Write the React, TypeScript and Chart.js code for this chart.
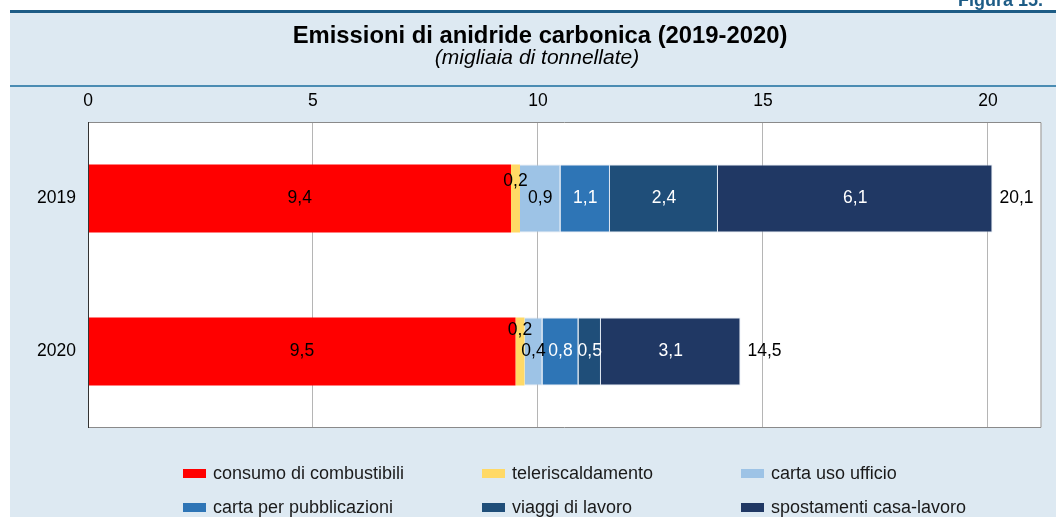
import React, { useEffect, useRef } from "react";
import { Chart, registerables } from "chart.js";

Chart.register(...registerables);

const years = ["2019", "2020"];
const seriesNames = [
  "consumo di combustibili",
  "teleriscaldamento",
  "carta uso ufficio",
  "carta per pubblicazioni",
  "viaggi di lavoro",
  "spostamenti casa-lavoro",
];
const consumoCombustibili = [9.4, 9.5];
const teleriscaldamento = [0.2, 0.2];
const cartaUsoUfficio = [0.9, 0.4];
const cartaPubblicazioni = [1.1, 0.8];
const viaggiLavoro = [2.4, 0.5];
const spostamentiCasaLavoro = [6.1, 3.1];
const totals = [20.1, 14.5];
const xTicks = [0, 5, 10, 15, 20];
const xMax = 21.19;

const seriesColors = ["#ff0000", "#ffd966", "#9dc3e6", "#2e75b6", "#1f4e79", "#203864"];
const labelColors = ["#000000", "#000000", "#000000", "#ffffff", "#ffffff", "#ffffff"];

const FONT = "'Liberation Sans', Arial, Helvetica, sans-serif";
const fmt = (v: number) => v.toFixed(1).replace(".", ",");

const decorPlugin = {
  id: "decor",
  beforeDraw(chart: any) {
    const { ctx, chartArea, width, height } = chart;
    ctx.save();
    ctx.fillStyle = "#ffffff";
    ctx.fillRect(0, 0, width, height);
    ctx.fillStyle = "#dde9f2";
    ctx.fillRect(10, 12, width - 10, height - 12);
    ctx.fillStyle = "#1d5c86";
    ctx.fillRect(10, 10, width - 10, 3);
    ctx.fillStyle = "#4a8cb3";
    ctx.fillRect(10, 85, width - 10, 2);
    // Figure tag (cut at top)
    ctx.fillStyle = "#1d5c86";
    ctx.font = `bold 18px ${FONT}`;
    ctx.textAlign = "left";
    ctx.textBaseline = "alphabetic";
    ctx.fillText("Figura 15.", 958, 6);
    // title
    ctx.fillStyle = "#000000";
    ctx.textAlign = "center";
    ctx.font = `bold 23.8px ${FONT}`;
    ctx.fillText("Emissioni di anidride carbonica (2019-2020)", 540, 42.5);
    ctx.font = `italic 21px ${FONT}`;
    ctx.fillText("(migliaia di tonnellate)", 537, 63.5);
    // plot background
    ctx.fillStyle = "#ffffff";
    ctx.fillRect(chartArea.left, chartArea.top, chartArea.right - chartArea.left, chartArea.bottom - chartArea.top);
    ctx.restore();
  },
  afterDatasetsDraw(chart: any) {
    const { ctx, chartArea } = chart;
    ctx.save();
    // frame
    ctx.strokeStyle = "#8a8a8a";
    ctx.lineWidth = 1;
    ctx.beginPath();
    ctx.moveTo(chartArea.left, chartArea.top + 0.5);
    ctx.lineTo(chartArea.right - 0.5, chartArea.top + 0.5);
    ctx.lineTo(chartArea.right - 0.5, chartArea.bottom - 0.5);
    ctx.lineTo(chartArea.left, chartArea.bottom - 0.5);
    ctx.stroke();
    ctx.strokeStyle = "#333333";
    ctx.beginPath();
    ctx.moveTo(chartArea.left + 0.5, chartArea.top);
    ctx.lineTo(chartArea.left + 0.5, chartArea.bottom);
    ctx.stroke();

    // value labels
    ctx.font = `17.5px ${FONT}`;
    ctx.textBaseline = "middle";
    ctx.textAlign = "center";
    const smallOffsets = [-17, -21];
    chart.data.datasets.forEach((ds: any, i: number) => {
      const meta = chart.getDatasetMeta(i);
      meta.data.forEach((el: any, j: number) => {
        const cx = (el.x + el.base) / 2;
        const cy = el.y + (i === 1 ? smallOffsets[j] : 0);
        ctx.fillStyle = labelColors[i];
        ctx.fillText(fmt(ds.data[j]), cx, cy);
      });
    });
    // totals
    const last = chart.getDatasetMeta(chart.data.datasets.length - 1);
    ctx.fillStyle = "#000000";
    ctx.textAlign = "left";
    last.data.forEach((el: any, j: number) => {
      ctx.fillText(fmt(totals[j]), el.x + 7, el.y);
    });

    // legend
    const colX = [183, 482, 741];
    const rowY = [479, 513];
    ctx.font = `18px ${FONT}`;
    ctx.textBaseline = "alphabetic";
    ctx.textAlign = "left";
    chart.data.datasets.forEach((ds: any, i: number) => {
      const x = colX[i % 3];
      const y = rowY[Math.floor(i / 3)];
      ctx.fillStyle = ds.backgroundColor;
      ctx.fillRect(x, y - 10, 23, 9);
      ctx.fillStyle = "#1a1a1a";
      ctx.fillText(ds.label, x + 30, y);
    });
    ctx.restore();
  },
};

export default function App() {
  const ref = useRef<HTMLCanvasElement | null>(null);
  useEffect(() => {
    if (!ref.current) return;
    const seriesData = [
      consumoCombustibili,
      teleriscaldamento,
      cartaUsoUfficio,
      cartaPubblicazioni,
      viaggiLavoro,
      spostamentiCasaLavoro,
    ];
    const chart = new Chart(ref.current, {
      type: "bar",
      data: {
        labels: years,
        datasets: seriesData.map((d, i) => ({
          label: seriesNames[i],
          data: d,
          backgroundColor: seriesColors[i],
          borderWidth: i >= 2 ? { left: 0, right: 1, top: 1, bottom: 1 } : 0,
          borderColor: "rgba(190,205,225,0.55)",
          borderSkipped: false,
          categoryPercentage: 1,
          barPercentage: 0.445,
        })),
      },
      options: {
        indexAxis: "y",
        animation: false,
        responsive: false,
        devicePixelRatio: 1,
        layout: { padding: { left: 0, top: 87, right: 14.5, bottom: 89 } },
        plugins: { legend: { display: false }, tooltip: { enabled: false }, title: { display: false } },
        scales: {
          x: {
            position: "top",
            stacked: true,
            min: 0,
            max: xMax,
            afterBuildTicks: (s: any) => {
              s.ticks = xTicks.map((v) => ({ value: v }));
            },
            afterFit: (s: any) => {
              s.height = 35;
            },
            grid: { color: "#b5b5b5", drawTicks: false, lineWidth: 1 },
            border: { display: false },
            ticks: { color: "#000000", font: { family: FONT, size: 17.5 }, padding: 10.5, maxRotation: 0 },
          },
          y: {
            stacked: true,
            afterFit: (s: any) => {
              s.width = 88;
            },
            grid: { display: false, drawTicks: false },
            border: { display: false },
            ticks: { color: "#000000", font: { family: FONT, size: 17.5 }, padding: 12 },
          },
        },
      },
      plugins: [decorPlugin],
    } as any);
    return () => chart.destroy();
  }, []);
  return (
    <div style={{ position: "absolute", left: 0, top: 0, width: 1056, height: 517 }}>
      <canvas ref={ref} width={1056} height={517} style={{ width: 1056, height: 517, display: "block" }} />
    </div>
  );
}
